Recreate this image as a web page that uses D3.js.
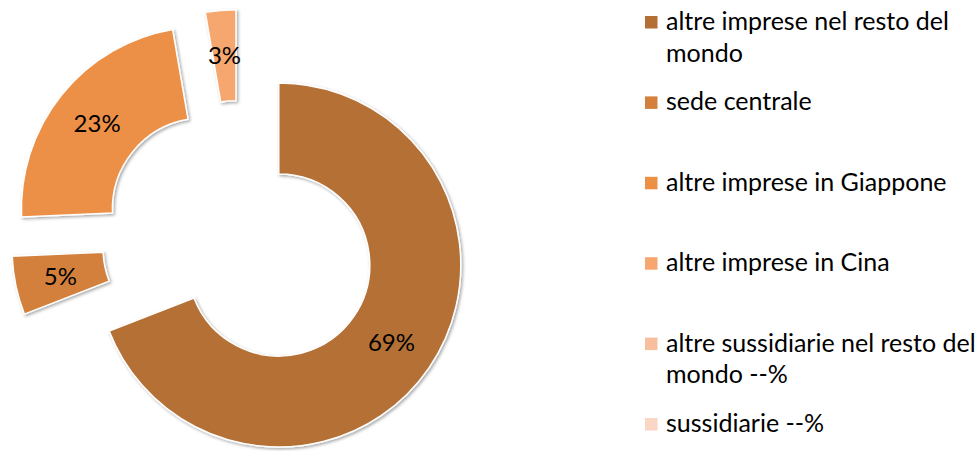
<html>
<meta charset="utf-8" />
<head>
<title>Doughnut</title>
<style>
body { margin: 0; background: #fff; }
svg { display: block; }
svg text { font-family: Lato, "Noto Sans", sans-serif; fill: #000; }
</style>
<script src="https://d3js.org/d3.v7.min.js" charset="utf-8"></script>
</head>
<body>
<svg class="chart"></svg>

<script>
var chartWidth = 979;
var chartHeight = 451;

/********
 * Data *
 ********/

var categories = [
  "altre imprese nel resto del mondo",
  "sede centrale",
  "altre imprese in Giappone",
  "altre imprese in Cina",
  "altre sussidiarie nel resto del mondo --%",
  "sussidiarie --%"
];
var values = [69.1, 5.2, 23.0, 2.7, 0, 0];
var colors = ["#b46f35", "#d3803c", "#ec9046", "#f6a76f", "#f8bf9f", "#fad6c5"];

/**********
 * Scales *
 **********/

var c = d3.scaleOrdinal().domain(categories).range(colors);
var fmt = d3.format(".0%");

var cx = 240, cy = 238.5;
var outerR = 182, innerR = 91, explode = 47;

var svg = d3.select(".chart")
    .attr("width", chartWidth)
    .attr("height", chartHeight);

// soft shadow like the office charts
var defs = svg.append("defs");
defs.append("filter")
    .attr("id", "shadow")
    .attr("x", "-10%").attr("y", "-10%")
    .attr("width", "130%").attr("height", "130%")
  .append("feDropShadow")
    .attr("dx", 1.5)
    .attr("dy", 1.5)
    .attr("stdDeviation", 1.5)
    .attr("flood-color", "#000")
    .attr("flood-opacity", 0.35);

/************
 * Doughnut *
 ************/

var pie = d3.pie()
    .sort(null)
    .value(function(d) { return d.value; });

var arc = d3.arc()
    .innerRadius(innerR)
    .outerRadius(outerR);

var labelArc = d3.arc()
    .innerRadius((innerR + outerR) / 2)
    .outerRadius((innerR + outerR) / 2);

var data = categories.map(function(k, i) { return { name: k, value: values[i] }; });

function offset(d) {
  var a = (d.startAngle + d.endAngle) / 2;
  return "translate(" + (cx + explode * Math.sin(a)) + "," + (cy - explode * Math.cos(a)) + ")";
}

var slices = svg.append("g").selectAll(".slice")
    .data(pie(data))
  .enter().append("g")
    .attr("class", "slice")
    .attr("transform", offset);

slices.append("path")
    .attr("d", arc)
    .attr("fill", function(d) { return c(d.data.name); })
    .attr("stroke", "#fff")
    .attr("stroke-width", 1.5)
    .attr("filter", "url(#shadow)");

slices.filter(function(d) { return d.data.value > 0; })
  .append("text")
    .attr("transform", function(d) { return "translate(" + labelArc.centroid(d) + ")"; })
    .attr("dy", "0.35em")
    .style("text-anchor", "middle")
    .style("font-size", "24px")
    .text(function(d) { return fmt(Math.round(d.data.value) / 100); });

/**********
 * Legend *
 **********/

var ly = d3.scalePoint()
    .domain(categories)
    .range([22.5, 424.5]);

var legend = svg.selectAll(".legend")
    .data(categories)
  .enter().append("g")
    .attr("class", "legend")
    .attr("transform", function(d) { return "translate(645," + ly(d) + ")"; });

legend.append("rect")
    .attr("x", 0)
    .attr("y", -6.5)
    .attr("width", 12.5)
    .attr("height", 12.5)
    .style("fill", c);

legend.append("text")
    .attr("x", 21)
    .attr("y", 7.5)
    .style("font-size", "25px")
    .text(function(d) { return d; })
    .call(wrap, 322);

function wrap(sel, width) {
  sel.each(function() {
    var text = d3.select(this),
        words = text.text().split(/\s+/),
        line = [],
        x = text.attr("x"),
        y = text.attr("y"),
        n = 0,
        tspan = text.text(null).append("tspan").attr("x", x).attr("y", y);
    words.forEach(function(w) {
      line.push(w);
      tspan.text(line.join(" "));
      if (tspan.node().getComputedTextLength() > width && line.length > 1) {
        line.pop();
        tspan.text(line.join(" "));
        line = [w];
        n++;
        tspan = text.append("tspan").attr("x", x).attr("y", +y + n * 31.5).text(w);
      }
    });
  });
}
</script>
</body>
</html>
